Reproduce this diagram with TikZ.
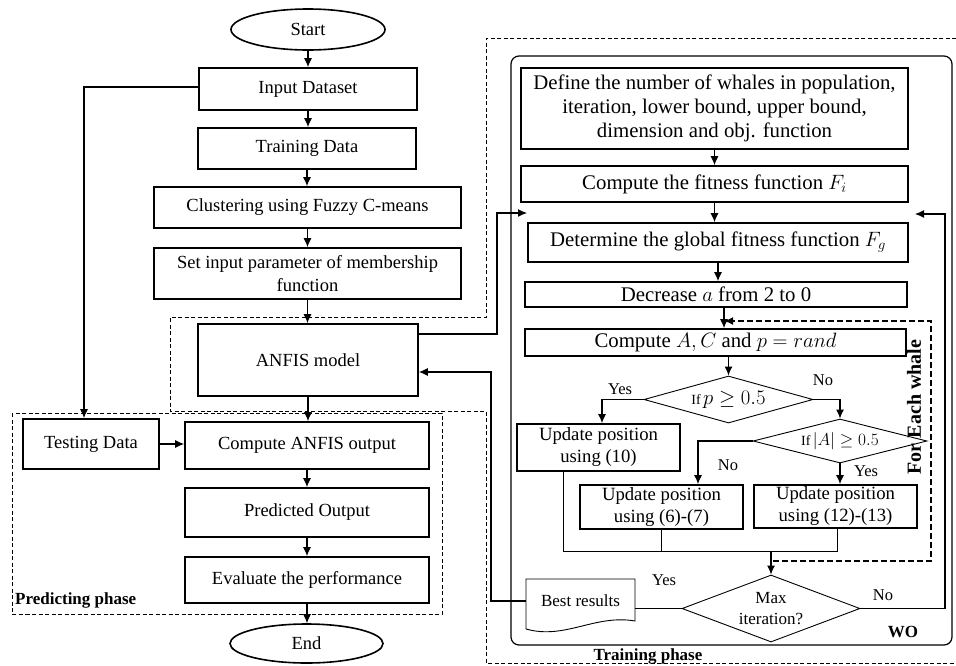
\documentclass[tikz,border=0pt]{standalone}
\usepackage{fontspec}
\setmainfont{Liberation Serif}
\usetikzlibrary{arrows.meta,shapes.geometric}
\newcommand\fsz[2]{\fontsize{#1}{#2}\selectfont}
\tikzset{
  pbox/.style={draw, line width=1.7pt, inner sep=0pt, align=center, font=\fsz{18.5}{23}},
  wbox/.style={draw, line width=1.7pt, inner sep=0pt, align=center, font=\fsz{20.8}{24}},
  ubox/.style={draw, line width=1.8pt, inner sep=0pt, align=center, font=\fsz{18.7}{22}},
  term/.style={draw, ellipse, line width=1.6pt, inner sep=0pt, font=\fsz{18.5}{23}},
  dec/.style={draw, diamond, line width=0.9pt, inner sep=0pt, align=center},
  arr/.style={-{Latex[length=9pt,width=8pt]}, line width=1.1pt},
  ln/.style={line width=1pt},
  phase/.style={dash pattern=on 4pt off 2.5pt, line width=0.9pt},
  loopd/.style={dash pattern=on 6pt off 3pt, line width=1.8pt},
  lbl/.style={inner sep=0pt, font=\fsz{16.5}{20}},
  bld/.style={inner sep=0pt, font=\fsz{17}{20}\bfseries},
}
\begin{document}
\begin{tikzpicture}[x=1pt,y=-1pt]
\useasboundingbox (0,0) rectangle (956,665);
% phase frames
\draw[phase] (956,38) -- (486,38) -- (486,317) -- (170,317) -- (170,411) -- (486,411) -- (486,663) -- (956,663);
\draw[phase] (12,413) rectangle (442,614);
\draw[line width=1.2pt, rounded corners=8pt] (511,56) rectangle (952,645);

% left column
\node[term, minimum width=154, minimum height=41] (start) at (308,29.5) {Start};
\node[pbox, minimum width=218, minimum height=42] (input) at (308,89) {Input Dataset};
\node[pbox, minimum width=218, minimum height=41] (train) at (307,148.5) {Training Data};
\node[pbox, minimum width=307, minimum height=41] (clust) at (307.5,207.5) {Clustering using Fuzzy C-means};
\node[pbox, minimum width=307, minimum height=51] (setp) at (307.5,273.5) {Set input parameter of membership\\function};
\node[pbox, minimum width=220, minimum height=72] (anfis) at (308,360) {ANFIS model};
\node[pbox, minimum width=136, minimum height=50] (test) at (91,444) {Testing Data};
\node[pbox, minimum width=244, minimum height=47] (cout) at (307,445.5) {Compute ANFIS output};
\node[pbox, minimum width=244, minimum height=49] (pred) at (307,512.5) {Predicted Output};
\node[pbox, minimum width=244, minimum height=46] (eval) at (307,580) {Evaluate the performance};
\node[term, minimum width=153, minimum height=39] (stop) at (306.5,643.5) {End};

% right column
\node[wbox, minimum width=387, minimum height=81] (def) at (714.5,108.5) {Define the number of whales in population,\\iteration, lower bound, upper bound,\\dimension and obj. function};
\node[wbox, minimum width=387, minimum height=36] (fit) at (714.5,184) {Compute the fitness function $F_i$};
\node[wbox, minimum width=380, minimum height=39] (glob) at (718,242.5) {Determine the global fitness function $F_g$};
\node[wbox, minimum width=382, minimum height=25] (decr) at (716,294.5) {Decrease $a$ from 2 to 0};
\node[wbox, minimum width=381, minimum height=27] (cac) at (715.5,342.5) {Compute $A, C$ and $p = rand$};

\node[dec, aspect=3.6, minimum width=169, minimum height=47, font=\fsz{20}{24}] (d1) at (728.5,399.5) {{\fsz{14}{16}If\,}$p \geq 0.5$};
\node[dec, aspect=4, minimum width=174, minimum height=44, font=\fsz{18}{22}] (d2) at (840,441) {{\fsz{14}{16}If\,}$|A| \geq 0.5$};
\node[dec, aspect=2.7, minimum width=178, minimum height=67, font=\fsz{17}{21}] (maxit) at (771,608.5) {Max\\iteration?};

\node[ubox, minimum width=163, minimum height=47] (u10) at (598.5,447.5) {Update position\\using (10)};
\node[ubox, minimum width=163, minimum height=44] (u67) at (661.5,507) {Update position\\using (6)-(7)};
\node[ubox, minimum width=163, minimum height=43] (u1213) at (835.5,506.5) {Update position\\using (12)-(13)};

\node[inner sep=0pt, font=\fsz{17}{20}, minimum width=109, minimum height=44] (best) at (580.5,601) {Best results};
\draw[line width=0.9pt] (526,629) -- (526,579) -- (635,579) -- (635,621) .. controls (595,614) and (565,640) .. (526,629) -- cycle;

% left connectors
\draw[arr] (start.south) -- (start.south |- input.north);
\draw[arr] (input.south) -- (input.south |- train.north);
\draw[arr] (train.south) -- (train.south |- clust.north);
\draw[arr] (clust.south) -- (clust.south |- setp.north);
\draw[arr] (setp.south) -- (setp.south |- anfis.north);
\draw[arr] (anfis.south) -- (anfis.south |- cout.north);
\draw[arr] (cout.south) -- (cout.south |- pred.north);
\draw[arr] (pred.south) -- (pred.south |- eval.north);
\draw[arr] (eval.south) -- (eval.south |- stop.north);
\coordinate (tx) at (84,87);
\draw[arr] (input.west |- tx) -- (tx) -- (tx |- test.north);
\draw[arr] (test.east) -- (test.east -| cout.west);

% ANFIS <-> WO
\coordinate (fa) at (497,334);
\coordinate (fb) at (527,213);
\draw[arr] (fa -| anfis.east) -- (fa) |- (fb);
\coordinate (bk) at (491,372);
\draw[arr] (best.west) -| (bk) -- (bk -| anfis.east);

% right connectors
\draw[arr] (def.south) -- (def.south |- fit.north);
\draw[arr] (fit.south) -- (fit.south |- glob.north);
\draw[arr] (glob.south) -- (glob.south |- decr.north);
\coordinate (ax) at (724,0);
\draw[arr] (ax |- decr.south) -- (ax |- cac.north);
\draw[arr] (d1.north |- cac.south) -- (d1.north);
\coordinate (yx) at (602,0);
\draw[arr] (d1.west) -| (yx |- u10.north);
\draw[arr] (d1.east) -| (d2.north);
\coordinate (nx) at (698,0);
\draw[arr] (d2.west) -| (nx |- u67.north);
\draw[arr] (d2.south) -- (d2.south |- u1213.north);

% merge
\coordinate (m1) at (563,551);
\coordinate (m3) at (837,551);
\draw[ln] (m1 |- u10.south) -- (m1) -- (m3) -- (m3 |- u1213.south);
\draw[ln] (u67.south) -- (u67.south |- m1);
\draw[arr] (maxit.north |- m1) -- (maxit.north);

% for each whale loop
\coordinate (w0) at (773,561);
\coordinate (w1) at (931,561);
\coordinate (w2) at (931,321);
\coordinate (w3) at (ax |- w2);
\draw[loopd, -{Latex[length=9pt,width=8pt]}] (w0) -- (w1) -- (w2) -- (w3);
\node[bld, rotate=90, font=\fsz{20}{22}\bfseries] (each) at (914,407) {For Each whale};

% max iteration branches
\coordinate (nr) at (945,214);
\coordinate (nt) at (915,214);
\draw[arr] (maxit.east) -| (nr) -- (nt);
\draw[ln] (maxit.west) -- (maxit.west -| best.east);

% labels
\node[lbl] (ly1) at (620,389) {Yes};
\node[lbl] (ln1) at (823,380) {No};
\node[lbl] (ln2) at (728,465) {No};
\node[lbl] (ly2) at (866,471) {Yes};
\node[lbl] (ly3) at (664,580) {Yes};
\node[lbl] (ln3) at (883,595) {No};
\node[bld] (wo) at (903,632) {WO};
\node[bld] (tp) at (648,656) {Training phase};
\node[bld, anchor=west] (pp) at (15,600) {Predicting phase};
\end{tikzpicture}
\end{document}
